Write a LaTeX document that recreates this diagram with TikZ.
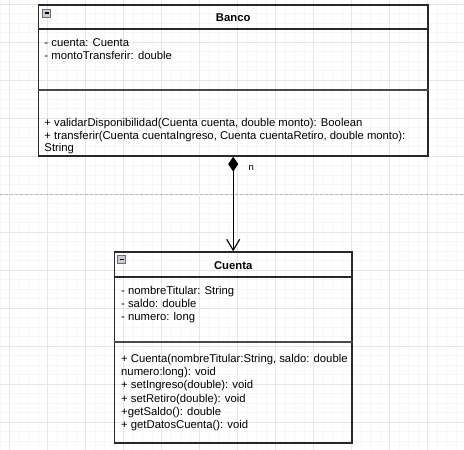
\documentclass[tikz,border=0pt]{standalone}
\usepackage{fontspec}
\setmainfont{Liberation Sans}
\usetikzlibrary{arrows.meta}

\definecolor{umlcolor0000}{RGB}{40,40,40}
\definecolor{umlcolor0001}{RGB}{246,246,246}
\definecolor{umlcolor0002}{RGB}{230,230,230}
\definecolor{umlcolor0003}{RGB}{185,185,185}
\definecolor{umlcolor0004}{RGB}{200,204,214}
\definecolor{umlcolor0005}{RGB}{110,110,120}

\begin{document}
\begin{tikzpicture}[
  yscale = -1,
  pstyle0/.style = {draw=umlcolor0000,line width=1.3pt,inner sep=0pt},
  pstyle1/.style = {color=umlcolor0000,line width=1.1pt},
  pstyle2/.style = {color=umlcolor0000!85,line width=2pt},
  pstyle3/.style = {color=black,line width=1.1pt,{Diamond[length=15pt,width=10pt]}-{Straight Barb[length=11pt,width=13pt]}},
  pstyle4/.style = {color=umlcolor0003,line width=1pt,dash pattern=on 3pt off 2pt},
  pstyle5/.style = {color=umlcolor0001,line width=1pt},
  pstyle6/.style = {color=umlcolor0002,line width=1pt},
  ptoggle/.style = {draw=umlcolor0005,fill=umlcolor0004,line width=0.8pt,minimum size=8pt,inner sep=0pt,
    path picture={\draw[black,line width=1.2pt] ([xshift=1.8pt]path picture bounding box.west) -- ([xshift=-1.8pt]path picture bounding box.east);}},
  ptext/.style = {anchor=base west,inner sep=0pt,font=\fontsize{11.3}{13.3}\selectfont},
  ptitle/.style = {anchor=base,inner sep=0pt,font=\fontsize{11.3}{13.3}\selectfont\bfseries},
]
  \useasboundingbox (0pt,0pt) rectangle (464pt,450pt);
  % grid
  \foreach \gx in {0,9.5,...,464} \draw[pstyle5] (\gx pt,0pt) -- (\gx pt,450pt);
  \foreach \gy in {4.3,13.8,...,450} \draw[pstyle5] (0pt,\gy pt) -- (464pt,\gy pt);
  \foreach \gx in {9.5,47.5,...,464} \draw[pstyle6] (\gx pt,0pt) -- (\gx pt,450pt);
  \foreach \gy in {4.3,42.3,...,450} \draw[pstyle6] (0pt,\gy pt) -- (464pt,\gy pt);
  \coordinate (pageleft) at (0pt,194pt);
  \coordinate (pageright) at (464pt,194pt);
  \draw[pstyle4] (pageleft) -- (pageright);

  % Banco
  \node (banco) [pstyle0,minimum width=389.7pt,minimum height=151pt] at (233.2pt,80.5pt) {};
  \draw[pstyle1] (banco.west |- 0pt,29pt) -- (banco.east |- 0pt,29pt);
  \draw[pstyle2] (banco.west |- 0pt,90pt) -- (banco.east |- 0pt,90pt);
  \node (bancotoggle) [ptoggle] at (46.7pt,13pt) {};
  \node (bancotitle) [ptitle] at (233.2pt,21pt) {Banco};
  \node (bancoattr1) [ptext] at (44.3pt,46.3pt) {- cuenta: Cuenta};
  \node (bancoattr2) [ptext] at (44.3pt,59.3pt) {- montoTransferir: double};
  \node (bancoop1) [ptext] at (44.3pt,126.3pt) {+ validarDisponibilidad(Cuenta cuenta, double monto): Boolean};
  \node (bancoop2) [ptext] at (44.3pt,139pt) {+ transferir(Cuenta cuentaIngreso, Cuenta cuentaRetiro, double monto):};
  \node (bancoop3) [ptext] at (44.3pt,151.7pt) {String};

  % Cuenta
  \node (cuenta) [pstyle0,minimum width=237.7pt,minimum height=191pt] at (233.2pt,347.5pt) {};
  \draw[pstyle1] (cuenta.west |- 0pt,277pt) -- (cuenta.east |- 0pt,277pt);
  \draw[pstyle2] (cuenta.west |- 0pt,342pt) -- (cuenta.east |- 0pt,342pt);
  \node (cuentatoggle) [ptoggle] at (121.7pt,259.3pt) {};
  \node (cuentatitle) [ptitle] at (233.2pt,269.3pt) {Cuenta};
  \node (cuentaattr1) [ptext] at (121pt,294pt) {- nombreTitular: String};
  \node (cuentaattr2) [ptext] at (121pt,307.3pt) {- saldo: double};
  \node (cuentaattr3) [ptext] at (121pt,320.6pt) {- numero: long};
  \node (cuentaop1) [ptext] at (121pt,362.3pt) {+ Cuenta(nombreTitular:String, saldo: double};
  \node (cuentaop2) [ptext] at (121pt,375.6pt) {numero:long): void};
  \node (cuentaop3) [ptext] at (121pt,388.9pt) {+ setIngreso(double): void};
  \node (cuentaop4) [ptext] at (121pt,402.2pt) {+ setRetiro(double): void};
  \node (cuentaop5) [ptext] at (121pt,415.5pt) {+getSaldo(): double};
  \node (cuentaop6) [ptext] at (121pt,428.8pt) {+ getDatosCuenta(): void};

  % composition
  \draw[pstyle3] (banco.south) -- (cuenta.north);
  \node (mult) [anchor=base west,inner sep=0pt,font=\fontsize{9.5}{11}\selectfont] at (248.5pt,170.5pt) {n};
\end{tikzpicture}
\end{document}
